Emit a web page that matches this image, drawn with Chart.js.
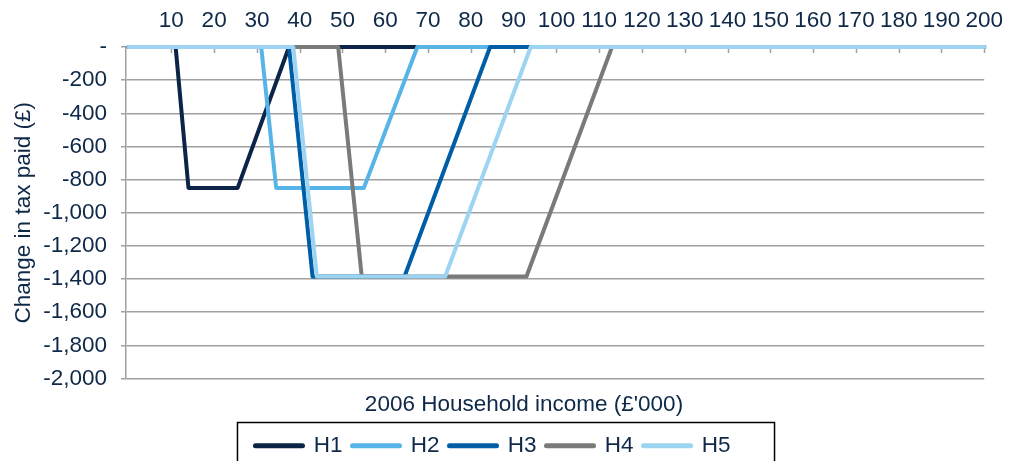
<!DOCTYPE html>
<html>
<head>
<meta charset="utf-8">
<script src="https://cdn.jsdelivr.net/npm/chart.js@4.4.1/dist/chart.umd.min.js"></script>
<style>
  html, body { margin: 0; padding: 0; background: #ffffff; }
</style>
</head>
<body>
<canvas id="taxChart" width="1016" height="461"></canvas>
<script>
// income labels along the top axis (£'000)
const xTicks = [10, 20, 30, 40, 50, 60, 70, 80, 90, 100, 110, 120, 130, 140, 150, 160, 170, 180, 190, 200];

// breakpoints: income (£'000) and change in tax paid (£)
const h1Income = [0, 11, 14, 25.5, 37.5, 200];
const h1Change = [0, 0, -850, -850, 0, 0];
const h2Income = [0, 31, 34.5, 55, 67.5, 200];
const h2Change = [0, 0, -850, -850, 0, 0];
const h3Income = [0, 37.5, 43, 64.5, 84.5, 200];
const h3Change = [0, 0, -1385, -1385, 0, 0];
const h4Income = [0, 49, 54.5, 93, 113, 200];
const h4Change = [0, 0, -1385, -1385, 0, 0];
const h5Income = [0, 38.5, 44, 74, 94, 200];
const h5Change = [0, 0, -1385, -1385, 0, 0];

const seriesNames = ["H1", "H2", "H3", "H4", "H5"];
const seriesColors = ["#0b2447", "#56b5e6", "#005ea6", "#7a7a7a", "#9dd4f2"];

const TEXT = "#0e2847";
const GRID = "#a0a0a0";
const FONT = "'Liberation Sans', Arial, sans-serif";
const FONT_SIZE = 22.5;
Chart.defaults.font.family = FONT;

function toPoints(xs, ys) {
  return xs.map((x, i) => ({ x: x, y: ys[i] }));
}

const allSeries = [
  toPoints(h1Income, h1Change),
  toPoints(h2Income, h2Change),
  toPoints(h3Income, h3Change),
  toPoints(h4Income, h4Change),
  toPoints(h5Income, h5Change),
];

// small tick marks hanging down from the top axis
const insideTicks = {
  id: "insideTicks",
  beforeDatasetsDraw(chart) {
    const ctx = chart.ctx;
    const xs = chart.scales.x;
    const top = chart.chartArea.top;
    ctx.save();
    ctx.strokeStyle = GRID;
    ctx.lineWidth = 1.5;
    ctx.beginPath();
    xTicks.forEach((v) => {
      const px = Math.round(xs.getPixelForValue(v)) + 0.5;
      ctx.moveTo(px, top);
      ctx.lineTo(px, top + 6);
    });
    ctx.stroke();
    ctx.restore();
  },
};

// bottom axis title and the frame around the legend
const extras = {
  id: "extras",
  afterDraw(chart) {
    const ctx = chart.ctx;
    ctx.save();
    ctx.fillStyle = TEXT;
    ctx.font = FONT_SIZE + "px " + FONT;
    ctx.textAlign = "center";
    ctx.textBaseline = "middle";
    ctx.fillText("2006 Household income (\u00a3'000)", 524, 405);

    const boxes = chart.legend.legendHitBoxes;
    if (boxes && boxes.length) {
      const first = boxes[0];
      const last = boxes[boxes.length - 1];
      const left = first.left - 18;
      const right = last.left + last.width + 44;
      const top = first.top - 12;
      ctx.strokeStyle = "#000000";
      ctx.lineWidth = 1.5;
      ctx.strokeRect(left, top, right - left, 60);
    }
    ctx.restore();
  },
};

const ctx = document.getElementById("taxChart").getContext("2d");

const taxChart = new Chart(ctx, {
  type: "line",
  data: {
    datasets: allSeries.map((pts, i) => ({
      label: seriesNames[i],
      data: pts,
      borderColor: seriesColors[i],
      backgroundColor: seriesColors[i],
      borderWidth: 4,
      borderJoinStyle: "round",
      borderCapStyle: "round",
      pointRadius: 0,
      pointStyle: "line",
      tension: 0,
      fill: false,
      clip: false,
      order: seriesNames.length - i,
    })),
  },
  options: {
    responsive: false,
    devicePixelRatio: 1,
    animation: false,
    layout: { padding: { top: 0, left: 0, right: 30, bottom: -6 } },
    scales: {
      x: {
        type: "linear",
        position: "top",
        min: -0.6,
        max: 200,
        afterBuildTicks: (s) => {
          s.ticks = xTicks.map((v) => ({ value: v }));
        },
        afterFit: (s) => {
          s.height = 47;
        },
        grid: { display: false, drawTicks: false },
        border: { display: true, color: GRID, width: 1.5 },
        ticks: {
          autoSkip: false,
          maxRotation: 0,
          padding: 13,
          color: TEXT,
          font: { size: FONT_SIZE },
        },
      },
      x2: {
        type: "linear",
        position: "bottom",
        min: 0,
        max: 1,
        afterFit: (s) => {
          s.height = 46;
        },
        ticks: { display: false },
        grid: { display: false, drawTicks: false },
        border: { display: false },
      },
      y: {
        min: -2000,
        max: 0,
        afterFit: (s) => {
          s.width = 126;
        },
        grid: { color: GRID, lineWidth: 1.5, tickLength: 5 },
        border: { color: GRID, width: 1.5 },
        ticks: {
          stepSize: 200,
          padding: 14,
          color: TEXT,
          font: { size: FONT_SIZE },
          callback: (v) => (v === 0 ? "-" : v.toLocaleString("en-US")),
        },
        title: {
          display: true,
          text: "Change in tax paid (\u00a3)",
          color: TEXT,
          font: { size: FONT_SIZE },
          padding: { top: 10, bottom: 0 },
        },
      },
    },
    plugins: {
      tooltip: { enabled: false },
      legend: {
        position: "bottom",
        labels: {
          usePointStyle: true,
          pointStyle: "line",
          pointStyleWidth: 47,
          padding: 10,
          color: TEXT,
          font: { size: FONT_SIZE },
          sort: (a, b) => a.datasetIndex - b.datasetIndex,
          generateLabels: (chart) =>
            Chart.defaults.plugins.legend.labels
              .generateLabels(chart)
              .map((item) => Object.assign(item, { lineWidth: 5, lineCap: "round" })),
        },
      },
    },
  },
  plugins: [insideTicks, extras],
});
</script>
</body>
</html>
